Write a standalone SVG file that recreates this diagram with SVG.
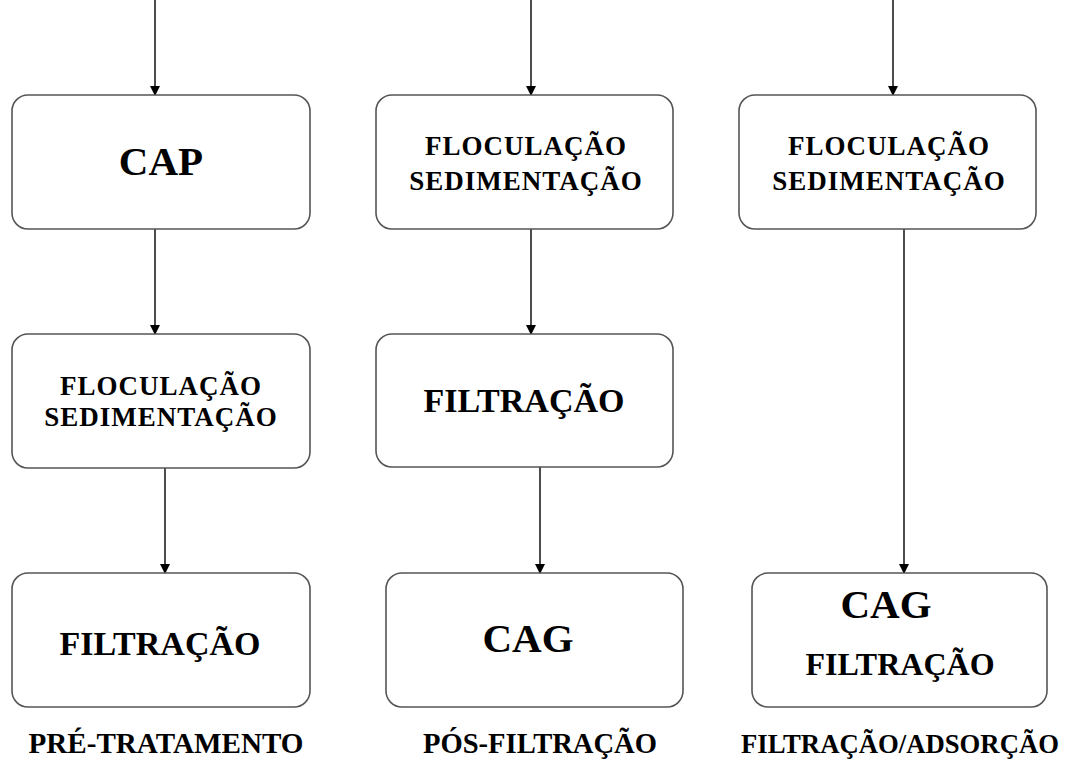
<svg xmlns="http://www.w3.org/2000/svg" width="1082" height="765" viewBox="0 0 1082 765">
<style>
.box{fill:#fff;stroke:#555;stroke-width:1.6}
.t{font-family:"Liberation Serif","Times New Roman",serif;font-weight:bold;fill:#000;text-anchor:middle}
.big{font-size:41px}
.mid{font-size:34px}
.sm{font-size:27px;letter-spacing:1px}
.lab{font-size:30px}
.c{stroke:#000;stroke-width:1.4;fill:none;marker-end:url(#ah)}
</style>
<defs>
<marker id="ah" markerWidth="10" markerHeight="12" refX="9" refY="5" orient="auto" markerUnits="userSpaceOnUse">
<path d="M0,0 L10,5 L0,10 z" fill="#000"/>
</marker>
</defs>
<rect width="1082" height="765" fill="#fff"/>
<g id="connectors">
<line class="c" x1="155" y1="0" x2="155" y2="95"/>
<line class="c" x1="155" y1="229" x2="155" y2="334"/>
<line class="c" x1="165" y1="468" x2="165" y2="573"/>
<line class="c" x1="531" y1="0" x2="531" y2="95"/>
<line class="c" x1="531" y1="229" x2="531" y2="334"/>
<line class="c" x1="540" y1="467" x2="540" y2="573"/>
<line class="c" x1="893" y1="0" x2="893" y2="95"/>
<line class="c" x1="904" y1="229" x2="904" y2="573"/>
</g>
<g id="cap">
<rect class="box" x="12" y="95" width="298" height="134" rx="16"/>
<text class="t big" x="161" y="175">CAP</text>
</g>
<g id="floc1">
<rect class="box" x="12" y="334" width="298" height="134" rx="16"/>
<text class="t sm" x="161" y="395">FLOCULAÇÃO</text>
<text class="t sm" x="161" y="426">SEDIMENTAÇÃO</text>
</g>
<g id="filt1">
<rect class="box" x="12" y="573" width="298" height="134" rx="16"/>
<text class="t mid" x="160" y="655">FILTRAÇÃO</text>
</g>
<g id="floc2">
<rect class="box" x="376" y="95" width="297" height="134" rx="16"/>
<text class="t sm" x="526" y="155">FLOCULAÇÃO</text>
<text class="t sm" x="526" y="190">SEDIMENTAÇÃO</text>
</g>
<g id="filt2">
<rect class="box" x="376" y="334" width="297" height="133" rx="16"/>
<text class="t mid" x="524" y="412">FILTRAÇÃO</text>
</g>
<g id="cag2">
<rect class="box" x="386" y="573" width="297" height="134" rx="16"/>
<text class="t big" x="528" y="652">CAG</text>
</g>
<g id="floc3">
<rect class="box" x="739" y="95" width="297" height="134" rx="16"/>
<text class="t sm" x="889" y="155">FLOCULAÇÃO</text>
<text class="t sm" x="889" y="190">SEDIMENTAÇÃO</text>
</g>
<g id="cagfilt3">
<rect class="box" x="752" y="573" width="295" height="134" rx="16"/>
<text class="t big" x="886" y="618">CAG</text>
<text class="t" style="font-size:32px" x="900" y="675">FILTRAÇÃO</text>
</g>
<g id="labels">
<text class="t lab" x="166" y="753" textLength="275" lengthAdjust="spacingAndGlyphs">PRÉ-TRATAMENTO</text>
<text class="t lab" x="540" y="753" textLength="234" lengthAdjust="spacingAndGlyphs">PÓS-FILTRAÇÃO</text>
<text class="t" style="font-size:28px" x="900" y="753" textLength="318" lengthAdjust="spacingAndGlyphs">FILTRAÇÃO/ADSORÇÃO</text>
</g>
</svg>
